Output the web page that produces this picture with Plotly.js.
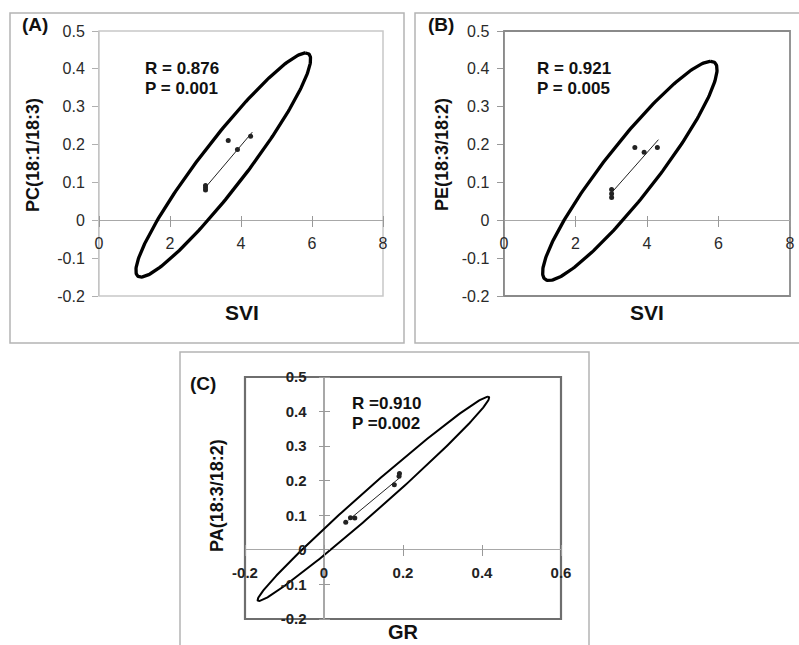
<!DOCTYPE html>
<html><head><meta charset="utf-8">
<script src="https://cdn.plot.ly/plotly-3.0.1.min.js"></script>
<style>html,body{margin:0;padding:0;background:#fff;} #chart{width:799px;height:645px;}</style>
</head><body><div id="chart"></div>
<script>
// ---------- data ----------
const sviA = [3.0, 3.0, 3.0, 3.64, 3.90, 4.27];
const pcA  = [0.080, 0.086, 0.092, 0.211, 0.187, 0.222];
const trendAx = [3.01, 4.32];
const trendAy = [0.088, 0.233];

const sviB = [3.01, 3.01, 3.01, 3.66, 3.92, 4.29];
const peB  = [0.060, 0.070, 0.081, 0.192, 0.180, 0.192];
const trendBx = [3.03, 4.32];
const trendBy = [0.075, 0.213];

const grC = [0.055, 0.067, 0.078, 0.178, 0.190, 0.191];
const paC = [0.080, 0.093, 0.092, 0.188, 0.213, 0.221];
const trendCx = [0.062, 0.190];
const trendCy = [0.086, 0.207];

// ellipse geometry (center, vector to topmost point, horizontal half-width)
const ellipseAcenter = [3.5, 0.146];  const ellipseAaxis = [2.32, 0.296];  const ellipseAhalf = 0.82;
const ellipseBcenter = [3.52, 0.1305]; const ellipseBaxis = [2.26, 0.2895]; const ellipseBhalf = 0.92;
const ellipseCcenter = [0.125, 0.1475]; const ellipseCaxis = [0.29, 0.2955]; const ellipseChalf = 0.042;

const sviTicks = [0, 2, 4, 6, 8];
const sviTickText = ['0', '2', '4', '6', '8'];
const grTicks = [-0.2, 0, 0.2, 0.4, 0.6];
const grTickText = ['-0.2', '0', '0.2', '0.4', '0.6'];
const yTicks = [-0.2, -0.1, 0, 0.1, 0.2, 0.3, 0.4, 0.5];
const yTickText = ['-0.2', '-0.1', '0', '0.1', '0.2', '0.3', '0.4', '0.5'];

const statsA = ['R = 0.876', 'P = 0.001'];
const statsB = ['R = 0.921', 'P = 0.005'];
const statsC = ['R =0.910', 'P =0.002'];

// ---------- layout helpers ----------
const W = 799, H = 645;
const fx = p => p / W;
const fy = p => 1 - p / H;

function ellipse(c, u, h) {
  const xs = [], ys = [];
  for (let i = 0; i <= 240; i++) {
    const t = 2 * Math.PI * i / 240;
    xs.push(c[0] + u[0] * Math.cos(t) + h * Math.sin(t));
    ys.push(c[1] + u[1] * Math.cos(t));
  }
  return {xs, ys};
}

const pA = {x0: 99, x1: 383, y0: 31, y1: 296, xr: [0, 8], yr: [-0.2, 0.5]};
const pB = {x0: 504, x1: 790, y0: 31, y1: 296, xr: [0, 8], yr: [-0.2, 0.5]};
const pC = {x0: 245, x1: 561, y0: 377, y1: 619, xr: [-0.2, 0.6], yr: [-0.2, 0.5]};
function yPix(p, v) { return p.y0 + (p.yr[1] - v) / (p.yr[1] - p.yr[0]) * (p.y1 - p.y0); }
function xPix(p, v) { return p.x0 + (v - p.xr[0]) / (p.xr[1] - p.xr[0]) * (p.x1 - p.x0); }

const tickFontAB = {family: 'Liberation Sans, Arial, sans-serif', size: 16, color: '#2a2a2a'};
const tickFontC = {family: 'Liberation Sans, Arial, sans-serif', size: 15, color: '#222', weight: 'bold'};

function traces(xs, ys, tx, ty, el, xa, ya, lw) {
  return [
    {x: el.xs, y: el.ys, xaxis: xa, yaxis: ya, mode: 'lines', line: {color: '#000', width: lw}, hoverinfo: 'skip'},
    {x: tx, y: ty, xaxis: xa, yaxis: ya, mode: 'lines', line: {color: '#222', width: 1}, hoverinfo: 'skip'},
    {x: xs, y: ys, xaxis: xa, yaxis: ya, mode: 'markers', marker: {color: '#222', size: 5}, hoverinfo: 'skip'}
  ];
}

const data = [].concat(
  traces(sviA, pcA, trendAx, trendAy, ellipse(ellipseAcenter, ellipseAaxis, ellipseAhalf), 'x', 'y', 3.3),
  traces(sviB, peB, trendBx, trendBy, ellipse(ellipseBcenter, ellipseBaxis, ellipseBhalf), 'x2', 'y2', 3.3),
  traces(grC, paC, trendCx, trendCy, ellipse(ellipseCcenter, ellipseCaxis, ellipseChalf), 'x3', 'y3', 2)
);

function freeX(p, tv, tt, font, standoff) {
  return {domain: [fx(p.x0), fx(p.x1)], range: p.xr, anchor: 'free', position: fy(yPix(p, 0) - 5.5),
    showline: false, ticks: 'outside', ticklen: 11, tickcolor: '#999', tickwidth: 1,
    tickvals: tv, ticktext: tt, tickfont: font, ticklabelstandoff: standoff,
    showgrid: false, zeroline: false, fixedrange: true};
}

const layout = {
  width: W, height: H, margin: {l: 0, r: 0, t: 0, b: 0},
  paper_bgcolor: '#fff', plot_bgcolor: 'rgba(0,0,0,0)', showlegend: false,
  xaxis: freeX(pA, sviTicks, sviTickText, tickFontAB, 3),
  yaxis: {domain: [fy(pA.y1), fy(pA.y0)], range: pA.yr, anchor: 'x', showline: true, linecolor: '#c4c4c4', linewidth: 1,
    ticks: 'outside', ticklen: 6, tickcolor: '#b0b0b0', tickvals: yTicks, ticktext: yTickText, tickfont: tickFontAB,
    ticklabelstandoff: 4, showgrid: false, zeroline: true, zerolinecolor: '#a8a8a8', zerolinewidth: 1.2, fixedrange: true},
  xaxis2: freeX(pB, sviTicks, sviTickText, tickFontAB, 3),
  yaxis2: {domain: [fy(pB.y1), fy(pB.y0)], range: pB.yr, anchor: 'x2', showline: true, linecolor: '#8a8a8a', linewidth: 1.5,
    ticks: 'outside', ticklen: 6, tickcolor: '#999', tickvals: yTicks, ticktext: yTickText, tickfont: tickFontAB,
    ticklabelstandoff: 4, showgrid: false, zeroline: true, zerolinecolor: '#a8a8a8', zerolinewidth: 1.2, fixedrange: true},
  xaxis3: Object.assign(freeX(pC, grTicks, grTickText, tickFontC, 4), {zeroline: true, zerolinecolor: '#a8a8a8', zerolinewidth: 1.2}),
  yaxis3: {domain: [fy(pC.y1), fy(pC.y0)], range: pC.yr, anchor: 'free', position: fx(xPix(pC, 0) + 5.5),
    showline: false, ticks: 'outside', ticklen: 11, tickcolor: '#999', tickvals: yTicks, ticktext: yTickText, tickfont: tickFontC,
    ticklabelstandoff: 9, showgrid: false, zeroline: true, zerolinecolor: '#a8a8a8', zerolinewidth: 1.2, fixedrange: true},
  shapes: [
    // outer panel frames
    {type: 'rect', xref: 'paper', yref: 'paper', x0: fx(10), x1: fx(404), y0: fy(343), y1: fy(13), line: {color: '#b4b4b4', width: 1.5}},
    {type: 'rect', xref: 'paper', yref: 'paper', x0: fx(415), x1: fx(812), y0: fy(343), y1: fy(13), line: {color: '#b4b4b4', width: 1.5}},
    {type: 'rect', xref: 'paper', yref: 'paper', x0: fx(180), x1: fx(589), y0: fy(660), y1: fy(352), line: {color: '#b4b4b4', width: 1.5}},
    // plot-area borders
    {type: 'rect', xref: 'x domain', yref: 'y domain', x0: 0, x1: 1, y0: 0, y1: 1, line: {color: '#c8c8c8', width: 1.5}, layer: 'below'},
    {type: 'rect', xref: 'x2 domain', yref: 'y2 domain', x0: 0, x1: 1, y0: 0, y1: 1, line: {color: '#8a8a8a', width: 1.8}, layer: 'below'},
    {type: 'rect', xref: 'x3 domain', yref: 'y3 domain', x0: 0, x1: 1, y0: 0, y1: 1, line: {color: '#6e6e6e', width: 2.2}, layer: 'below'}
  ],
  annotations: []
};

const bold = (s) => ({family: 'Liberation Sans, Arial, sans-serif', size: s, color: '#111', weight: 'bold'});
function ann(text, x, y, size, xanchor, angle) {
  layout.annotations.push({text: text, xref: 'paper', yref: 'paper', x: fx(x), y: fy(y), xanchor: xanchor || 'center',
    yanchor: 'middle', showarrow: false, font: bold(size), textangle: angle || 0});
}
ann('(A)', 35, 24, 19);
ann('(B)', 441, 24, 19);
ann('(C)', 203, 383, 19);
ann(statsA[0], 143, 68.5, 17, 'left'); ann(statsA[1], 143, 88, 17, 'left');
ann(statsB[0], 535, 68.5, 17, 'left'); ann(statsB[1], 535, 88, 17, 'left');
ann(statsC[0], 350, 403, 17, 'left'); ann(statsC[1], 350, 423, 17, 'left');
ann('PC(18:1/18:3)', 33, 155, 18, 'center', -90);
ann('PE(18:3/18:2)', 442, 155, 18, 'center', -90);
ann('PA(18:3/18:2)', 217, 496, 18, 'center', -90);
ann('SVI', 242, 312, 21);
ann('SVI', 647, 312, 21);
ann('GR', 403, 632, 20);

Plotly.newPlot('chart', data, layout, {staticPlot: true, displayModeBar: false});
</script></body></html>
